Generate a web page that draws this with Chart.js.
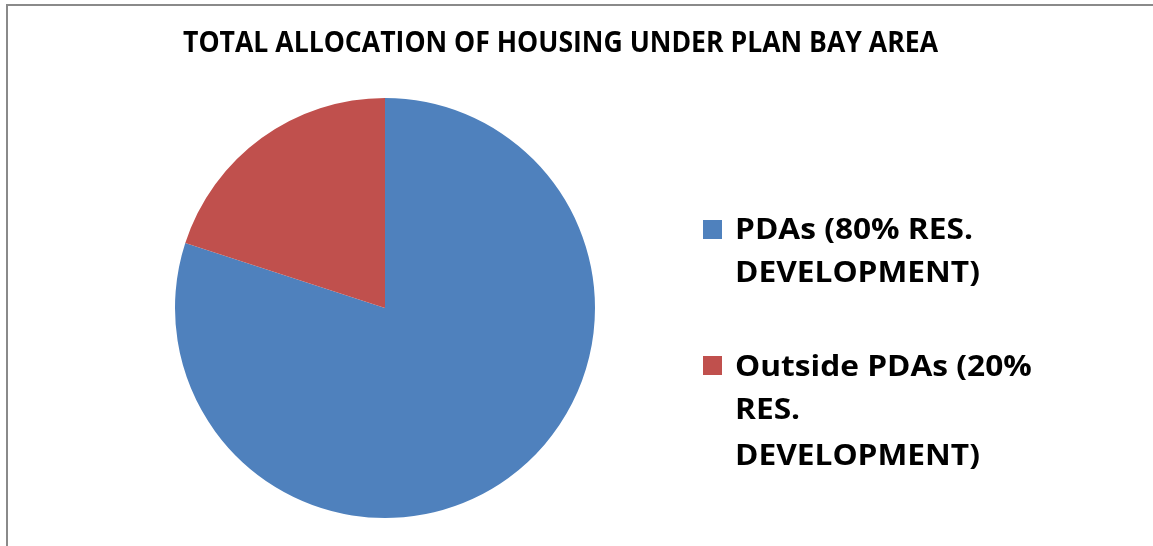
<!DOCTYPE html>
<html><head><meta charset="utf-8">
<script src="https://cdn.jsdelivr.net/npm/chart.js@4/dist/chart.umd.min.js"></script>
<style>
html,body{margin:0;padding:0;background:#fff;width:1153px;height:546px;overflow:hidden;}
#frame{position:absolute;left:6px;top:4px;width:1200px;height:600px;border-left:2px solid #8a8a8a;border-top:2px solid #8a8a8a;}
#wrap{position:absolute;left:0;top:0;width:1153px;height:546px;}
.txt{position:absolute;font-family:"Open Sans",sans-serif;font-weight:700;color:#000;white-space:nowrap;transform-origin:0 0;}
.sw{position:absolute;width:19px;height:19px;}
</style></head>
<body>
<div id="frame"></div>
<div id="wrap"><canvas id="c" width="1153" height="546"></canvas></div>
<div id="title" class="txt"></div>
<div id="legend"></div>
<script>
const categories = ["PDAs (80% RES. DEVELOPMENT)", "Outside PDAs (20% RES. DEVELOPMENT)"];
const legendLines = [["PDAs (80% RES.", "DEVELOPMENT)"], ["Outside PDAs (20%", "RES.", "DEVELOPMENT)"]];
const values = [80, 20];
const colors = ["#4F81BD", "#C0504D"];
const titleText = "TOTAL ALLOCATION OF HOUSING UNDER PLAN BAY AREA";

new Chart(document.getElementById('c'), {
  type: 'pie',
  data: {
    labels: categories,
    datasets: [{ data: values, backgroundColor: colors, borderWidth: 0 }]
  },
  options: {
    responsive: false,
    animation: false,
    rotation: 0,
    layout: { padding: { left: 175, top: 98, right: 558, bottom: 28 } },
    plugins: { legend: { display: false }, tooltip: { enabled: false }, title: { display: false } }
  }
});

// Title
const t = document.getElementById('title');
t.textContent = titleText;
t.style.fontSize = '28px';
t.style.lineHeight = '28px';
t.style.left = '183px';
t.style.top = '27px';
const tw = t.getBoundingClientRect().width;
t.style.transform = 'scaleX(' + (755 / tw) + ')';

// Legend
const lg = document.getElementById('legend');
const swTops = [220, 356];
const lineTops = [[214, 257], [351, 394, 440]];
let scale = 1;
legendLines.forEach((lines, i) => {
  const sw = document.createElement('div');
  sw.className = 'sw';
  sw.style.left = '703px';
  sw.style.top = swTops[i] + 'px';
  sw.style.background = colors[i];
  lg.appendChild(sw);
  lines.forEach((ln, j) => {
    const d = document.createElement('div');
    d.className = 'txt';
    d.textContent = ln;
    d.style.fontSize = '28.5px';
    d.style.lineHeight = '28px';
    d.style.left = '735px';
    d.style.top = lineTops[i][j] + 'px';
    lg.appendChild(d);
    if (i === 0 && j === 0) scale = 238 / d.getBoundingClientRect().width;
  });
});
lg.querySelectorAll('.txt').forEach(d => { d.style.transform = 'scaleX(' + scale + ')'; });
</script>
</body></html>
